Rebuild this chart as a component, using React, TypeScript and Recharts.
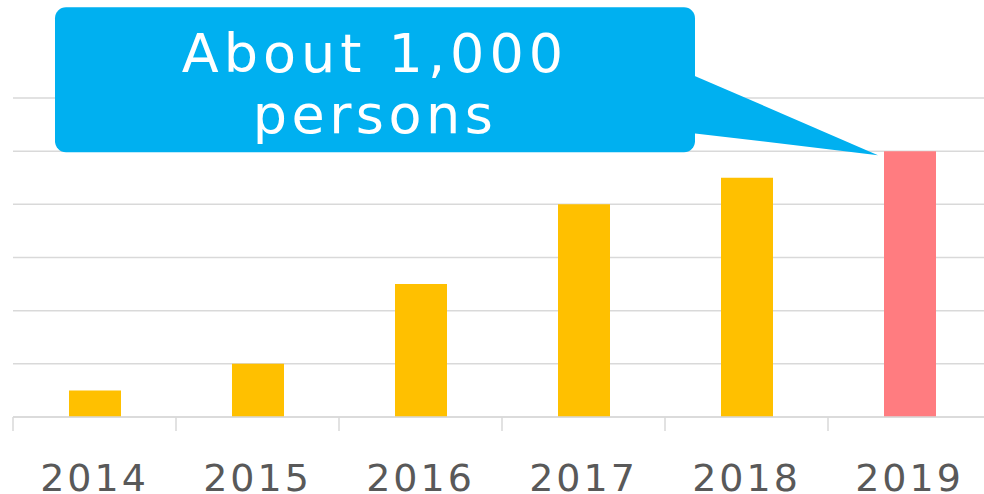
import { BarChart, Bar, Cell, XAxis, YAxis, CartesianGrid, ReferenceDot } from "recharts";

const years = ["2014", "2015", "2016", "2017", "2018", "2019"];
const values = [0.5, 1, 2.5, 4, 4.5, 5];
const barColors = ["#FFC000", "#FFC000", "#FFC000", "#FFC000", "#FFC000", "#FF7C80"];
const yTicks = [0, 1, 2, 3, 4, 5, 6];
const calloutLines = ["About 1,000", "persons"];

const data = years.map((year, i) => ({ year, value: values[i] }));

const FONT = "'DejaVu Sans', sans-serif";

// year label plus a tick mark on the left edge of each category band
function YearTick(props: any) {
  const { x, y, payload } = props;
  const half = payload?.offset ?? 81.5;
  return (
    <g>
      <line x1={x - half} y1={y} x2={x - half} y2={y + 14} stroke="#d9d9d9" strokeWidth={1.5} />
      <text
        x={x}
        y={y + 74}
        textAnchor="middle"
        fill="#595959"
        fontSize={38}
        fontFamily={FONT}
        letterSpacing={3}
      >
        {payload.value}
      </text>
    </g>
  );
}

// speech bubble pointing at the top of the last bar
function Callout(props: any) {
  const { cx, cy } = props;
  const left = cx - 854.5;
  const right = cx - 214.5;
  const top = cy - 144;
  const bottom = cy + 1;
  const mid = (left + right) / 2;
  return (
    <g>
      <path
        d={`M${right - 2},${cy - 76} L${cx - 31.5},${cy + 4} L${right - 2},${cy - 18} Z`}
        fill="#00B0F0"
      />
      <rect x={left} y={top} width={right - left} height={bottom - top} rx={11} fill="#00B0F0" />
      <text
        x={mid}
        y={cy - 79}
        textAnchor="middle"
        fill="#fff"
        fontSize={54}
        fontFamily={FONT}
        letterSpacing={5}
      >
        {calloutLines[0]}
      </text>
      <text
        x={mid}
        y={cy - 18}
        textAnchor="middle"
        fill="#fff"
        fontSize={54}
        fontFamily={FONT}
        letterSpacing={4.5}
      >
        {calloutLines[1]}
      </text>
    </g>
  );
}

export default function App() {
  return (
    <div style={{ position: "absolute", left: 0, top: 0, width: 984, height: 494, overflow: "hidden", background: "#fff" }}>
      <BarChart width={991} height={494} data={data} margin={{ top: 98, right: 0, left: 13, bottom: 0 }}>
        <CartesianGrid vertical={false} stroke="#d9d9d9" strokeWidth={1.5} />
        <YAxis hide domain={[0, 6]} ticks={yTicks} />
        <XAxis
          dataKey="year"
          height={77}
          axisLine={{ stroke: "#d9d9d9", strokeWidth: 1.5 }}
          tickLine={false}
          tickSize={0}
          tickMargin={0}
          interval={0}
          tick={<YearTick />}
        />
        <Bar dataKey="value" barSize={52} isAnimationActive={false}>
          {data.map((d, i) => (
            <Cell key={d.year} fill={barColors[i]} />
          ))}
        </Bar>
        <ReferenceDot x="2019" y={5} shape={<Callout />} />
      </BarChart>
    </div>
  );
}
